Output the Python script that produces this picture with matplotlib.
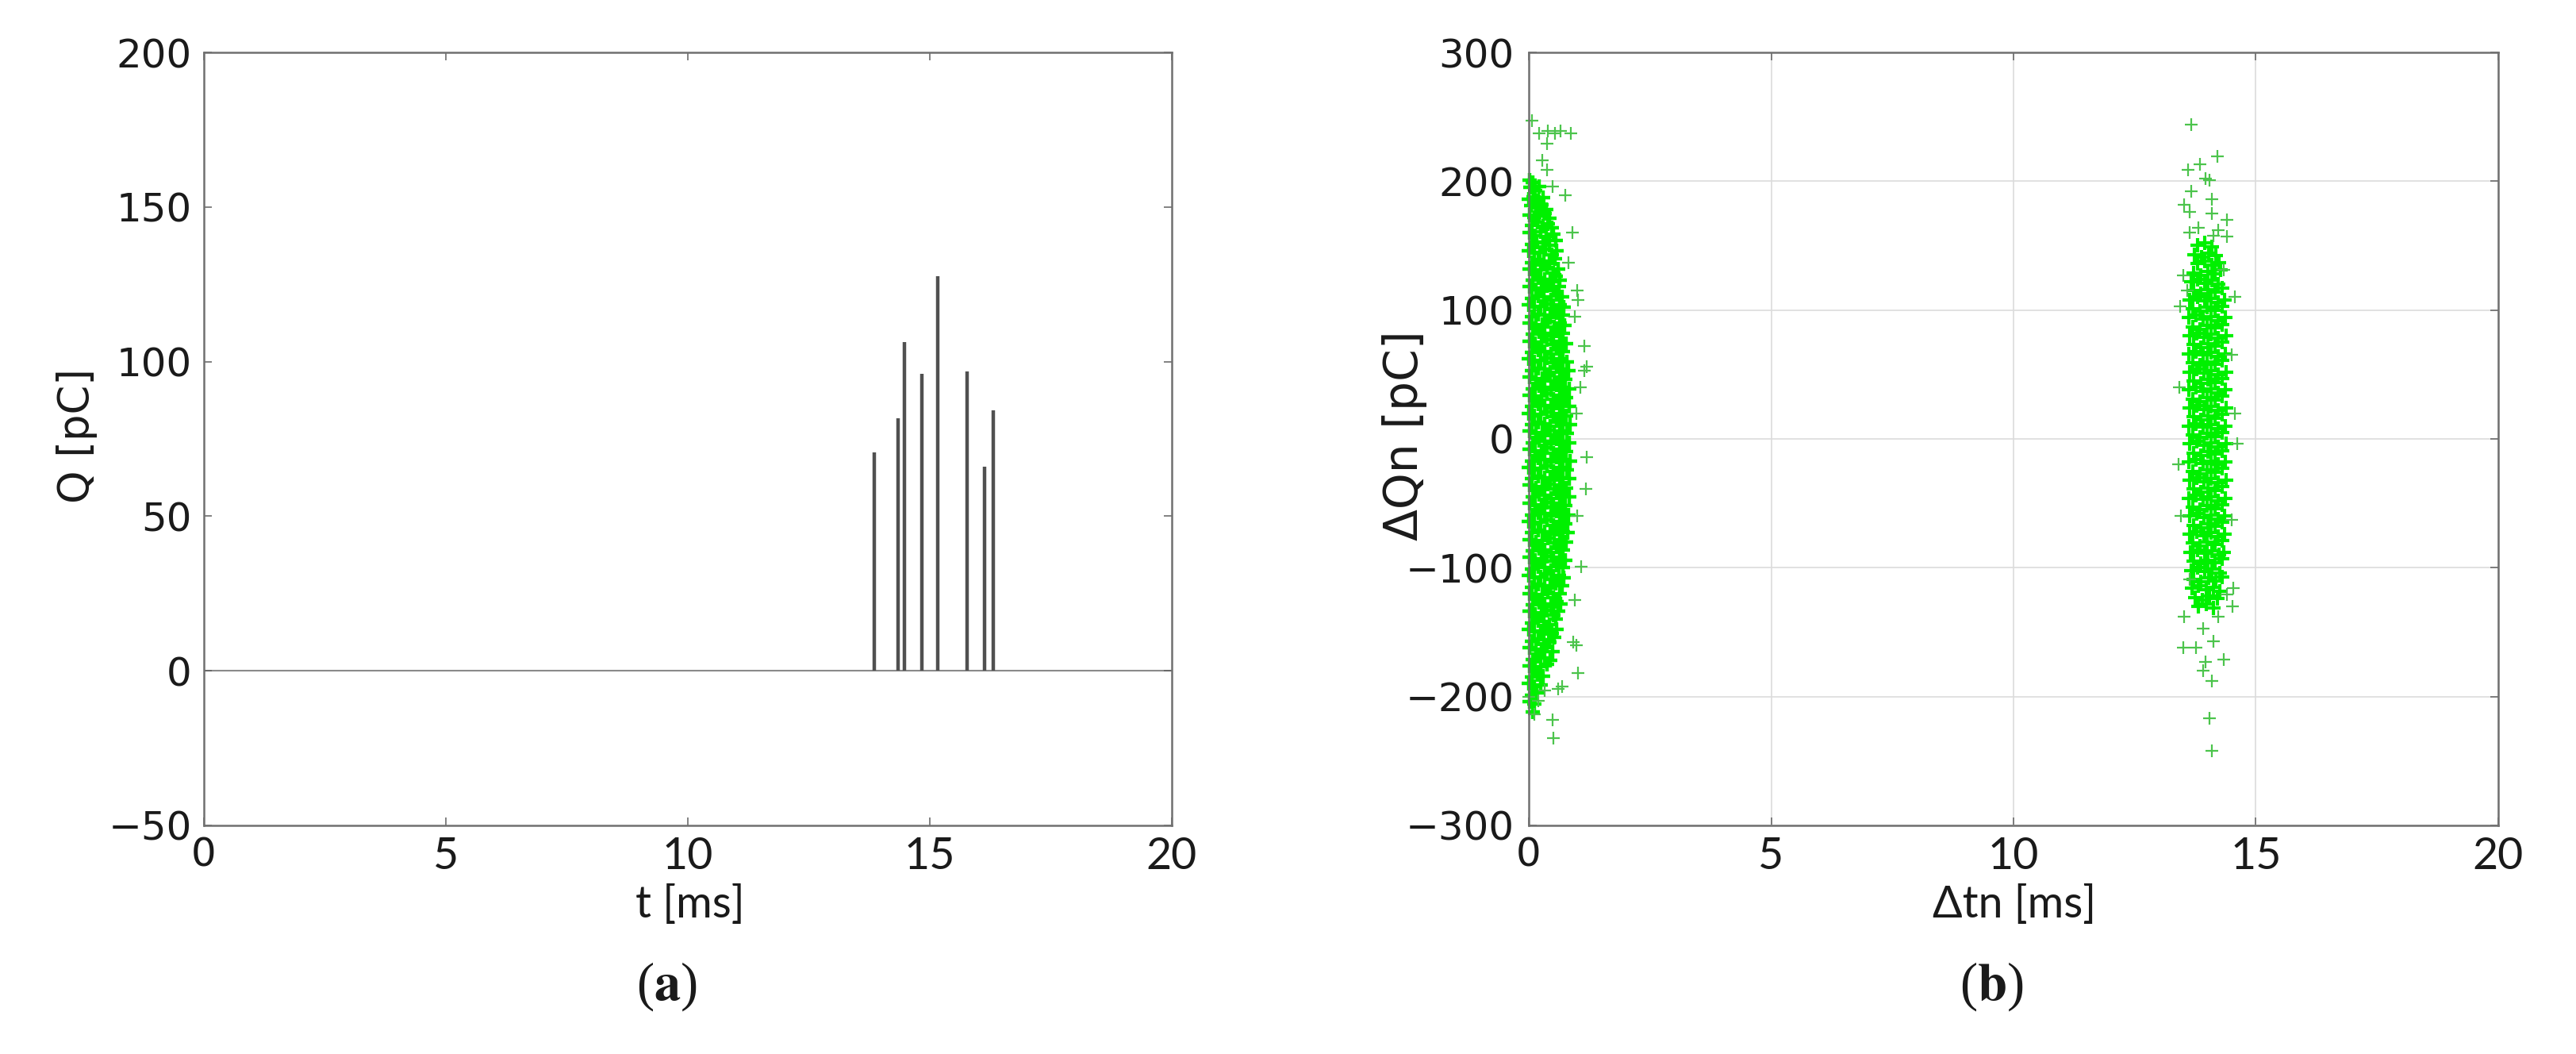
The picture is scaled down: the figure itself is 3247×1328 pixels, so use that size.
import matplotlib
matplotlib.use("Agg")
import matplotlib.pyplot as plt

plt.rcParams["mathtext.fontset"] = "stix"

# (a) charge pulses: time [ms] and charge [pC]
pulse_t = [13.85, 14.34, 14.48, 14.84, 15.16, 15.78, 16.13, 16.31]
pulse_q = [70.7, 81.6, 106.2, 96.1, 127.7, 96.7, 65.9, 84.2]

# (b) first cloud (short intervals), dense part read row by row
dt_near = [
    0.01, 0.08,
    0.04, 0.13, 0.21,
    0.00, 0.09, 0.19, 0.30,
    0.05, 0.14, 0.26, 0.36,
    0.01, 0.11, 0.22, 0.33, 0.43,
    0.07, 0.18, 0.29, 0.40, 0.48,
    0.02, 0.13, 0.24, 0.36, 0.50,
    0.06, 0.17, 0.30, 0.43, 0.55,
    0.00, 0.12, 0.23, 0.35, 0.47, 0.57,
    0.07, 0.19, 0.31, 0.42, 0.54,
    0.02, 0.13, 0.25, 0.37, 0.50, 0.61,
    0.08, 0.20, 0.32, 0.44, 0.56, 0.64,
    0.01, 0.14, 0.26, 0.38, 0.51, 0.62,
    0.06, 0.19, 0.31, 0.45, 0.57, 0.69,
    0.00, 0.12, 0.25, 0.37, 0.50, 0.63, 0.72,
    0.07, 0.20, 0.32, 0.44, 0.57, 0.70,
    0.02, 0.14, 0.27, 0.39, 0.52, 0.64, 0.74,
    0.08, 0.21, 0.33, 0.46, 0.58, 0.71,
    0.01, 0.13, 0.26, 0.38, 0.51, 0.64, 0.77,
    0.06, 0.19, 0.32, 0.45, 0.57, 0.70,
    0.00, 0.12, 0.25, 0.37, 0.50, 0.63, 0.79,
    0.07, 0.20, 0.32, 0.44, 0.57, 0.70, 0.82,
    0.02, 0.14, 0.27, 0.39, 0.52, 0.64, 0.76,
    0.08, 0.21, 0.33, 0.46, 0.58, 0.71, 0.84,
    0.01, 0.13, 0.26, 0.38, 0.51, 0.64, 0.77,
    0.06, 0.19, 0.32, 0.45, 0.57, 0.70, 0.84,
    0.00, 0.12, 0.25, 0.37, 0.50, 0.63, 0.77,
    0.07, 0.20, 0.32, 0.44, 0.57, 0.70, 0.85,
    0.02, 0.14, 0.27, 0.39, 0.52, 0.64, 0.78,
    0.08, 0.21, 0.33, 0.46, 0.58, 0.71, 0.84,
    0.01, 0.13, 0.26, 0.38, 0.51, 0.64, 0.77,
    0.06, 0.19, 0.32, 0.45, 0.57, 0.70, 0.85,
    0.00, 0.12, 0.25, 0.37, 0.50, 0.63, 0.78,
    0.07, 0.20, 0.32, 0.44, 0.57, 0.70, 0.84,
    0.02, 0.14, 0.27, 0.39, 0.52, 0.64, 0.77,
    0.08, 0.21, 0.33, 0.46, 0.58, 0.71, 0.83,
    0.01, 0.13, 0.26, 0.38, 0.51, 0.64, 0.76,
    0.06, 0.19, 0.32, 0.45, 0.57, 0.70, 0.82,
    0.00, 0.12, 0.25, 0.37, 0.50, 0.63, 0.75,
    0.07, 0.20, 0.32, 0.44, 0.57, 0.70, 0.80,
    0.02, 0.14, 0.27, 0.39, 0.52, 0.64, 0.77,
    0.08, 0.21, 0.33, 0.46, 0.58, 0.71,
    0.01, 0.13, 0.26, 0.38, 0.51, 0.64, 0.75,
    0.06, 0.19, 0.32, 0.45, 0.57, 0.70,
    0.00, 0.12, 0.25, 0.37, 0.50, 0.62, 0.72,
    0.07, 0.20, 0.32, 0.44, 0.56, 0.68,
    0.02, 0.14, 0.27, 0.39, 0.51, 0.63,
    0.08, 0.21, 0.33, 0.45, 0.57, 0.66,
    0.01, 0.13, 0.26, 0.38, 0.50, 0.61,
    0.06, 0.19, 0.31, 0.43, 0.55,
    0.00, 0.12, 0.24, 0.36, 0.48, 0.58,
    0.07, 0.19, 0.31, 0.43, 0.53,
    0.02, 0.14, 0.26, 0.38, 0.49,
    0.08, 0.20, 0.32, 0.44,
    0.01, 0.13, 0.25, 0.37,
    0.06, 0.18, 0.30,
    0.00, 0.12, 0.24,
    0.07, 0.17,
    0.02, 0.12,
    0.08,
]
dq_near = [
    201, 199,
    195, 193, 196,
    186, 188, 185, 187,
    181, 179, 182, 178,
    174, 172, 173, 175, 171,
    166, 168, 165, 167, 164,
    160, 158, 161, 157, 159,
    151, 153, 152, 150, 154,
    146, 144, 145, 147, 143, 146,
    137, 139, 138, 136, 140,
    132, 130, 131, 133, 129, 132,
    123, 125, 124, 122, 126, 123,
    118, 116, 117, 119, 115, 118,
    109, 111, 110, 108, 112, 110,
    104, 102, 103, 105, 101, 104, 102,
    95, 97, 96, 94, 98, 96,
    90, 88, 89, 91, 87, 90, 88,
    81, 83, 82, 80, 84, 82,
    76, 74, 75, 77, 73, 76, 74,
    67, 69, 68, 66, 70, 68,
    62, 60, 61, 63, 59, 62, 60,
    53, 55, 54, 52, 56, 54, 53,
    48, 46, 47, 49, 45, 48, 46,
    39, 41, 40, 38, 42, 40, 39,
    34, 32, 33, 35, 31, 34, 32,
    25, 27, 26, 24, 28, 26, 25,
    20, 18, 19, 21, 17, 20, 18,
    11, 13, 12, 10, 14, 12, 11,
    6, 4, 5, 7, 3, 6, 4,
    -3, -1, -2, -4, 0, -2, -3,
    -8, -10, -9, -7, -11, -8, -10,
    -17, -15, -16, -18, -14, -16, -17,
    -22, -24, -23, -21, -25, -22, -24,
    -31, -29, -30, -32, -28, -30, -31,
    -36, -38, -37, -35, -39, -36, -38,
    -45, -43, -44, -46, -42, -44, -45,
    -50, -52, -51, -49, -53, -50, -52,
    -59, -57, -58, -60, -56, -58, -59,
    -64, -66, -65, -63, -67, -64, -66,
    -73, -71, -72, -74, -70, -72, -73,
    -78, -80, -79, -77, -81, -78, -80,
    -87, -85, -86, -88, -84, -86,
    -92, -94, -93, -91, -95, -92, -94,
    -101, -99, -100, -102, -98, -100,
    -106, -108, -107, -105, -109, -106, -108,
    -115, -113, -114, -116, -112, -114,
    -120, -122, -121, -119, -123, -120,
    -129, -127, -128, -130, -126, -128,
    -134, -136, -135, -133, -137, -134,
    -143, -141, -142, -144, -140,
    -148, -150, -149, -147, -151, -148,
    -157, -155, -156, -158, -154,
    -162, -164, -163, -161, -165,
    -171, -169, -170, -172,
    -176, -178, -177, -175,
    -185, -183, -184,
    -190, -192, -191,
    -199, -197,
    -204, -206,
    -212,
]
# sparse points around the first cloud
dt_near_out = [0.07, 0.21, 0.39, 0.54, 0.65, 0.87, 0.38, 0.27, 0.38, 0.49,
               0.75, 0.82, 0.90, 1.00, 1.02, 1.14, 1.20, 1.14, 1.06, 0.95,
               0.98, 1.19, 1.17, 1.00, 1.08, 0.95, 0.98, 1.01, 0.91, 0.51,
               0.49, 0.11, 0.60, 0.20, 0.00, 0.33, 0.69]
dq_near_out = [247, 237, 239, 237, 239, 237, 229, 216, 209, 196,
               189, 137, 160, 115, 108, 72, 56, 53, 40, 95,
               20, -14, -39, -60, -99, -125, -160, -182, -158, -232,
               -218, -214, -194, -203, -200, -195, -192]

# second cloud (around 14 ms), dense part row by row
dt_far = [
    13.80, 13.95, 14.10,
    13.74, 13.88, 14.03, 14.18,
    13.80, 13.95, 14.10, 14.24,
    13.72, 13.86, 14.01, 14.16, 14.28,
    13.66, 13.79, 13.94, 14.09, 14.23,
    13.72, 13.86, 14.01, 14.16, 14.31,
    13.64, 13.79, 13.94, 14.08, 14.23, 14.36,
    13.70, 13.85, 14.00, 14.15, 14.30,
    13.62, 13.77, 13.92, 14.07, 14.22, 14.37,
    13.70, 13.85, 14.00, 14.15, 14.30,
    13.63, 13.78, 13.93, 14.08, 14.23, 14.38,
    13.71, 13.86, 14.01, 14.16, 14.31,
    13.62, 13.77, 13.92, 14.07, 14.22, 14.37,
    13.70, 13.85, 14.00, 14.15, 14.30,
    13.63, 13.78, 13.93, 14.08, 14.23, 14.39,
    13.71, 13.86, 14.01, 14.16, 14.31,
    13.62, 13.77, 13.92, 14.07, 14.22, 14.37,
    13.70, 13.85, 14.00, 14.15, 14.30,
    13.63, 13.78, 13.93, 14.08, 14.23, 14.38,
    13.71, 13.86, 14.01, 14.16, 14.31,
    13.62, 13.77, 13.92, 14.07, 14.22, 14.37,
    13.70, 13.85, 14.00, 14.15, 14.30,
    13.63, 13.78, 13.93, 14.08, 14.23, 14.38,
    13.71, 13.86, 14.01, 14.16, 14.31,
    13.62, 13.77, 13.92, 14.07, 14.22, 14.37,
    13.70, 13.85, 14.00, 14.15, 14.30,
    13.63, 13.78, 13.93, 14.08, 14.23, 14.38,
    13.71, 13.86, 14.01, 14.16, 14.31,
    13.62, 13.77, 13.92, 14.07, 14.22, 14.37,
    13.70, 13.85, 14.00, 14.15, 14.30,
    13.63, 13.78, 13.93, 14.08, 14.23, 14.36,
    13.71, 13.86, 14.01, 14.16, 14.31,
    13.64, 13.78, 13.93, 14.08, 14.23, 14.35,
    13.70, 13.85, 14.00, 14.15, 14.30,
    13.65, 13.79, 13.94, 14.09, 14.24, 14.34,
    13.71, 13.86, 14.01, 14.16, 14.30,
    13.66, 13.80, 13.95, 14.10, 14.25,
    13.72, 13.87, 14.02, 14.17, 14.30,
    13.68, 13.82, 13.97, 14.12, 14.26,
    13.75, 13.90, 14.05, 14.20,
    13.82, 13.97, 14.12,
]
dq_far = [
    150, 152, 149,
    143, 141, 144, 142,
    136, 138, 135, 137,
    129, 127, 130, 128, 131,
    122, 124, 121, 123, 120,
    115, 113, 116, 114, 117,
    108, 110, 107, 109, 106, 108,
    101, 99, 102, 100, 103,
    94, 96, 93, 95, 92, 94,
    87, 85, 88, 86, 89,
    80, 82, 79, 81, 78, 80,
    73, 71, 74, 72, 75,
    66, 68, 65, 67, 64, 66,
    59, 57, 60, 58, 61,
    52, 54, 51, 53, 50, 52,
    45, 43, 46, 44, 47,
    38, 40, 37, 39, 36, 38,
    31, 29, 32, 30, 33,
    24, 26, 23, 25, 22, 24,
    17, 15, 18, 16, 19,
    10, 12, 9, 11, 8, 10,
    3, 1, 4, 2, 5,
    -4, -2, -5, -3, -6, -4,
    -11, -13, -10, -12, -9,
    -18, -16, -19, -17, -20, -18,
    -25, -27, -24, -26, -23,
    -32, -30, -33, -31, -34, -32,
    -39, -41, -38, -40, -37,
    -46, -44, -47, -45, -48, -46,
    -53, -55, -52, -54, -51,
    -60, -58, -61, -59, -62, -60,
    -67, -69, -66, -68, -65,
    -74, -72, -75, -73, -76, -74,
    -81, -83, -80, -82, -79,
    -88, -86, -89, -87, -90, -88,
    -95, -97, -94, -96, -93,
    -102, -100, -103, -101, -104,
    -109, -111, -108, -110, -107,
    -116, -114, -117, -115, -118,
    -123, -125, -122, -124,
    -130, -128, -131,
]
dt_far_out = [13.66, 14.21, 13.85, 13.60, 13.96, 14.04, 13.66, 13.52, 14.09, 13.63,
              14.09, 14.40, 13.82, 13.63, 14.23, 14.40, 14.12, 13.50, 13.58, 14.56,
              13.44, 14.34, 14.53, 14.51, 13.52, 14.23, 13.91, 14.12, 13.50, 13.77,
              13.96, 14.34, 13.91, 14.10, 14.04, 14.10, 13.63, 14.40, 14.62, 14.50,
              14.56, 14.50, 13.42, 13.45, 13.40]
dq_far_out = [244, 219, 213, 209, 202, 201, 192, 182, 186, 176,
              175, 170, 164, 160, 162, 157, 158, 127, 115, 110,
              103, 131, -116, -130, -138, -138, -147, -157, -162, -162,
              -173, -171, -180, -188, -217, -242, -109, -121, -4, 65,
              20, -63, 40, -60, -20]

AX_GREY = "#707070"
TICK_GREY = "#606060"
TEXT = "#1a1a1a"


def main():
    fig = plt.figure(figsize=(32.48, 13.28), dpi=100)
    ax_a = fig.add_axes([0.0791, 0.2169, 0.3756, 0.7334])
    ax_b = fig.add_axes([0.5933, 0.2169, 0.3762, 0.7334])

    draw_pulses(ax_a)
    draw_scatter(ax_b)

    fig.text(0.2586, 0.064, r"($\mathbf{a}$)", fontsize=48, family="Liberation Serif",
             ha="center", va="center", color=TEXT)
    fig.text(0.7730, 0.064, r"($\mathbf{b}$)", fontsize=48, family="Liberation Serif",
             ha="center", va="center", color=TEXT)

    fig.savefig("out.png", dpi=100, facecolor="white")


def style_axes(ax, ypad):
    """Box in grey, inward ticks on all sides, mixed fonts like the original."""
    for sp in ax.spines.values():
        sp.set_color(AX_GREY)
        sp.set_linewidth(1.8)
    ax.tick_params(direction="in", length=7, width=1.1, color=TICK_GREY,
                   top=True, right=True, labelcolor=TEXT)
    ax.tick_params(axis="y", labelsize=36, pad=ypad)
    ax.tick_params(axis="x", labelsize=40, pad=10)
    for lbl in ax.get_yticklabels():
        lbl.set_family("DejaVu Sans")
    for i, lbl in enumerate(ax.get_xticklabels()):
        if i == 0:
            lbl.set_family("DejaVu Sans")
            lbl.set_fontsize(36)
        else:
            lbl.set_family("Lato")


def draw_pulses(ax):
    ax.axhline(0, color="#8a8a8a", lw=1.5, zorder=1)
    ax.vlines(pulse_t, 0, pulse_q, color="#505050", lw=3.2, zorder=2)

    ax.set_xlim(0, 20)
    ax.set_ylim(-50, 200)
    ax.set_xticks([0, 5, 10, 15, 20])
    ax.set_yticks([-50, 0, 50, 100, 150, 200])
    style_axes(ax, ypad=11)

    ax.set_ylabel("Q [pC]", fontsize=38, family="DejaVu Sans", color=TEXT, va="center")
    ax.yaxis.set_label_coords(-0.131, 0.504)
    ax.set_xlabel("t [ms]", fontsize=40, family="Lato", color=TEXT, va="center")
    ax.xaxis.set_label_coords(0.502, -0.103)


def draw_scatter(ax):
    ax.grid(True, color="#dcdcdc", lw=1.2)
    ax.set_axisbelow(True)

    core = "#00f000"
    loose = "#4cc44c"
    ax.plot(dt_near, dq_near, "+", color=core, ms=13, mew=3.2, clip_on=False)
    ax.plot(dt_far, dq_far, "+", color=core, ms=13, mew=3.0, clip_on=False)
    ax.plot(dt_near_out, dq_near_out, "+", color=loose, ms=12, mew=1.6, clip_on=False)
    ax.plot(dt_far_out, dq_far_out, "+", color=loose, ms=12, mew=1.6, clip_on=False)

    ax.set_xlim(0, 20)
    ax.set_ylim(-300, 300)
    ax.set_xticks([0, 5, 10, 15, 20])
    ax.set_yticks([-300, -200, -100, 0, 100, 200, 300])
    style_axes(ax, ypad=13)

    ax.set_ylabel("ΔQn [pC]", fontsize=42, family="DejaVu Sans", color=TEXT, va="center")
    ax.yaxis.set_label_coords(-0.128, 0.504)
    ax.set_xlabel("Δtn [ms]", fontsize=40, family="Lato", color=TEXT, va="center")
    ax.xaxis.set_label_coords(0.501, -0.103)


if __name__ == "__main__":
    main()
